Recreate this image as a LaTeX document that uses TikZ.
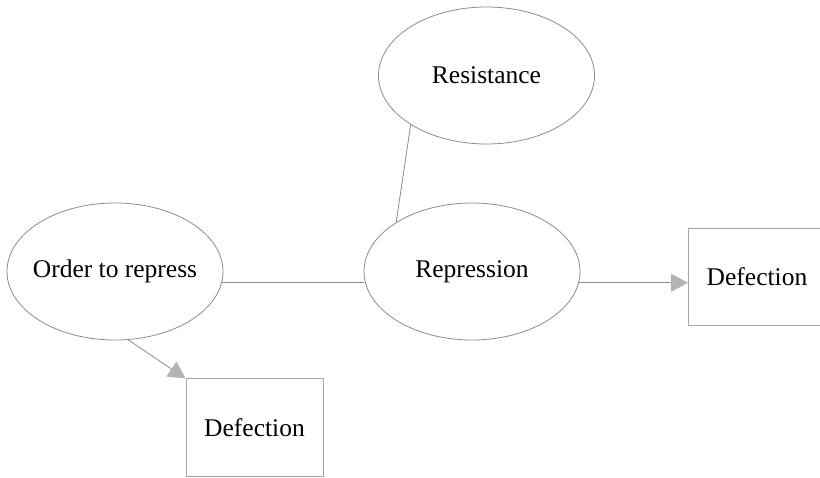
\documentclass[tikz,border=0pt]{standalone}
\usepackage{fontspec}
\setmainfont{Liberation Serif}
\usetikzlibrary{arrows.meta,shapes.geometric}
\definecolor{edgegray}{HTML}{8C8C8C}
\definecolor{boxgray}{HTML}{A6A6A6}
\definecolor{tipgray}{HTML}{B4B4B4}

\begin{document}
\begin{tikzpicture}[x=1pt,y=-1pt,
  every node/.style={font=\fontsize{25.5}{30}\selectfont},
  factor/.style={draw=edgegray,line width=0.8pt,ellipse,minimum width=216pt,minimum height=137pt,inner sep=0pt},
  outcome/.style={draw=boxgray,line width=1pt,rectangle,minimum width=137pt,minimum height=97pt,inner sep=0pt},
  link/.style={draw=edgegray,line width=0.8pt},
  effect/.style={link,-{Triangle[length=17pt,width=18pt,color=tipgray,fill=tipgray]}}]
  \useasboundingbox[fill=white] (0,0) rectangle (820,478);
  \node[factor] (res) at (486.5,75.5) {\makebox[0pt]{Resistance}};
  \node[factor] (rep) at (472,271.5) {\makebox[0pt]{Repression}};
  \node[factor] (ord) at (115,271.5) {\makebox[0pt]{Order to repress}};
  \node[outcome] (defR) at (757,277) {Defection};
  \node[outcome] (defB) at (254.5,427.5) {Defection};
  \draw[link] (res.213) -- (rep.147);
  \draw[link] (ord.-6) -- (ord.-6 -| rep.west);
  \draw[effect] (rep.-6) -- (rep.-6 -| defR.west);
  \draw[effect] (ord.-79) -- (defB.north west);
\end{tikzpicture}
\end{document}
